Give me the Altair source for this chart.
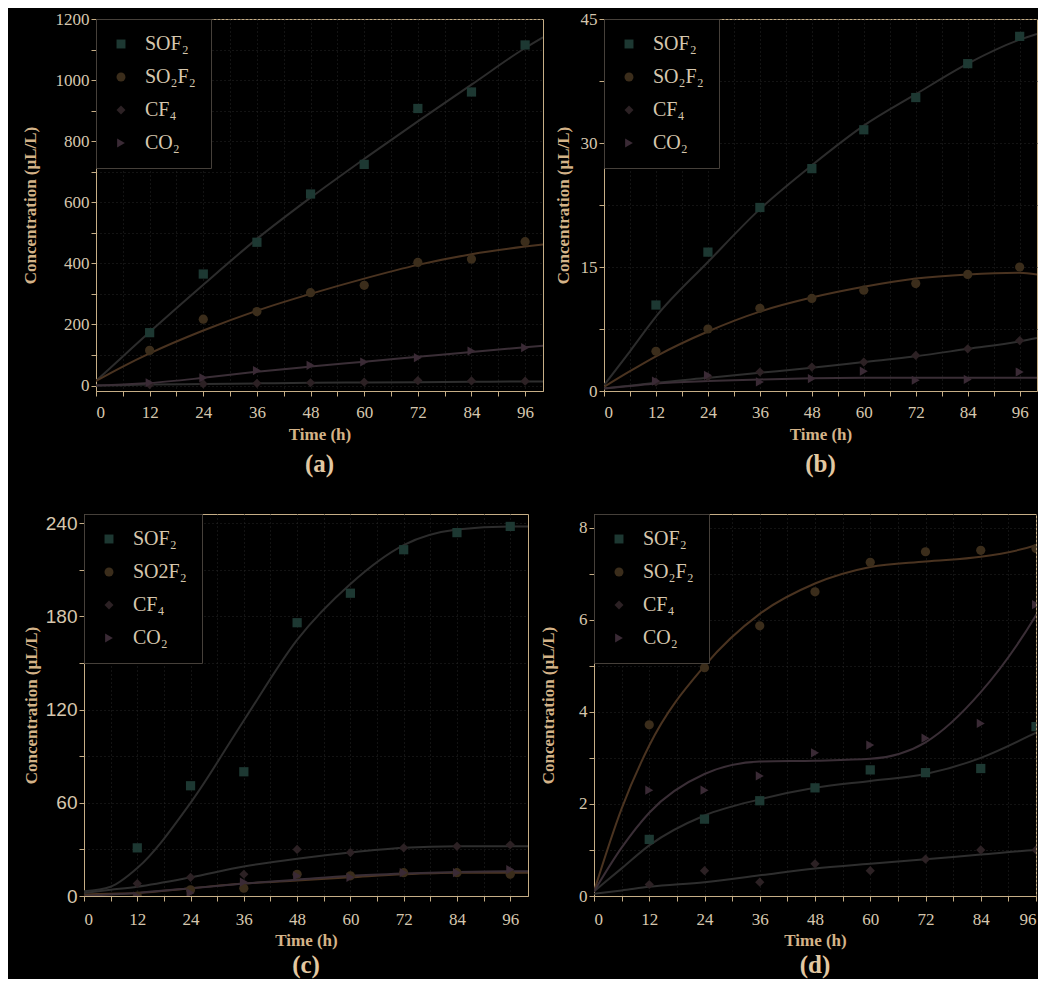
import altair as alt
import pandas as pd

# ---------------- data ----------------
SERIES_KEYS = ["SOF2", "SO2F2", "CF4", "CO2"]
LABELS_STD = ["SOF₂", "SO₂F₂", "CF₄", "CO₂"]
LABELS_C = ["SOF₂", "SO2F₂", "CF₄", "CO₂"]

HOURS = [12, 24, 36, 48, 60, 72, 84, 96]
FIT_HOURS = [0, 6, 12, 24, 36, 48, 60, 72, 84, 96, 100]

# panel (a) measured points
a_sof2 = [173, 365, 469, 627, 724, 907, 961, 1115]
a_so2f2 = [115, 217, 242, 304, 328, 403, 414, 471]
a_cf4 = [3, 5, 7, 9, 11, 16, 15, 14]
a_co2 = [9, 25, 49, 66, 77, 91, 113, 124]
# panel (a) fitted curves
a_sof2_fit = [15, 95, 175, 330, 480, 615, 742, 865, 985, 1105, 1140]
a_so2f2_fit = [15, 62, 105, 180, 245, 300, 350, 395, 430, 455, 462]
a_cf4_fit = [0, 1, 3, 5, 7, 9, 10, 11, 12, 13, 13]
a_co2_fit = [0, 3, 8, 25, 45, 62, 78, 94, 110, 125, 130]

# panel (b)
b_sof2 = [10.4, 16.8, 22.2, 26.9, 31.6, 35.5, 39.6, 42.9]
b_so2f2 = [4.8, 7.5, 10.0, 11.2, 12.2, 13.0, 14.1, 15.0]
b_cf4 = [1.1, 1.7, 2.3, 2.9, 3.5, 4.3, 5.1, 6.1]
b_co2 = [1.2, 1.9, 1.1, 1.5, 2.4, 1.3, 1.4, 2.3]
b_sof2_fit = [0.7, 4.8, 9.0, 15.6, 22.0, 27.3, 32.1, 35.9, 39.6, 42.5, 43.2]
b_so2f2_fit = [0.5, 2.4, 4.2, 7.2, 9.6, 11.3, 12.6, 13.6, 14.1, 14.3, 14.1]
b_cf4_fit = [0.3, 0.65, 1.0, 1.6, 2.2, 2.8, 3.5, 4.2, 5.1, 6.0, 6.4]
b_co2_fit = [0.3, 0.6, 0.9, 1.2, 1.4, 1.55, 1.6, 1.6, 1.6, 1.6, 1.6]

# panel (c)
c_sof2 = [31, 71, 80, 176, 195, 223, 234, 238]
c_so2f2 = [0, 4, 5, 14, 13, 15, 15, 14]
c_cf4 = [8, 12, 14, 30, 28, 31, 32, 33]
c_co2 = [0, 2, 9, 13, 12, 15, 15, 17]
c_sof2_fit = [3, 6, 18, 60, 113, 165, 201, 226, 236, 238, 238]
c_so2f2_fit = [1, 1.5, 2, 5, 8, 10, 12, 14, 15, 15, 15]
c_cf4_fit = [2, 4, 6, 12, 19, 24, 28, 31, 32, 32, 32]
c_co2_fit = [0, 1, 2, 5, 8, 10.5, 13, 14.5, 15.5, 16, 16]

# panel (d)
d_sof2 = [1.23, 1.67, 2.07, 2.35, 2.74, 2.68, 2.77, 3.68]
d_so2f2 = [3.72, 4.96, 5.87, 6.61, 7.25, 7.48, 7.51, 7.55]
d_cf4 = [0.25, 0.55, 0.3, 0.7, 0.55, 0.8, 1.0, 1.0]
d_co2 = [2.30, 2.30, 2.61, 3.11, 3.28, 3.43, 3.75, 6.33]
d_sof2_fit = [0.1, 0.6, 1.1, 1.75, 2.1, 2.35, 2.5, 2.65, 3.0, 3.55, 3.75]
d_so2f2_fit = [0.1, 1.9, 3.27, 5.0, 6.13, 6.79, 7.15, 7.27, 7.37, 7.62, 7.77]
d_cf4_fit = [0.05, 0.12, 0.2, 0.3, 0.45, 0.6, 0.7, 0.8, 0.9, 1.0, 1.02]
d_co2_fit = [0.1, 1.05, 1.81, 2.65, 2.92, 2.94, 2.98, 3.34, 4.43, 6.1, 6.8]

# ---------------- styling ----------------
MARKER_COLORS = ["#1d3832", "#3b2d1b", "#2c2124", "#3a2a35"]
LINE_COLORS = ["#2c2c2c", "#4a3320", "#2e2e2e", "#3a2e36"]
SHAPES = ["square", "circle", "diamond", "triangle-right"]
TAN = "#c6ae86"
LABEL_COL = "#d6c7ae"
TITLE_COL = "#d4b388"
LETTER_COL = "#e2c8a2"


def panel(labels, pts, fits, letter, xmax, ydomain, yvalues, ystep, width, height,
          ytitle_pad, ylabel_font, ylabel_size, xlabel_pad, xtitle_pad, title_offset,
          flush=False):
    prow, frow = [], []
    for i, key in enumerate(SERIES_KEYS):
        for h, v in zip(HOURS, pts[key]):
            prow.append({"series": labels[i], "hour": h, "value": v})
        for h, v in zip(FIT_HOURS, fits[key]):
            frow.append({"series": labels[i], "hour": h, "value": v})
    pdf = pd.DataFrame(prow)
    fdf = pd.DataFrame(frow)

    xaxis_kw = dict(
        values=list(range(0, 97, 6)),
        labelExpr="datum.value % 12 == 0 ? datum.label : ''",
        format="d",
        title="Time (h)",
        labelPadding=xlabel_pad,
        titlePadding=xtitle_pad,
    )
    if flush:
        xaxis_kw["labelFlush"] = True
    x = alt.X("hour:Q", scale=alt.Scale(domain=[0, xmax], nice=False, zero=False),
              axis=alt.Axis(**xaxis_kw))
    y = alt.Y("value:Q", scale=alt.Scale(domain=ydomain, nice=False, zero=False),
              axis=alt.Axis(values=yvalues, format="d",
                            labelExpr=f"datum.value % {ystep} == 0 ? datum.label : ''",
                            title="Concentration (μL/L)", titlePadding=ytitle_pad,
                            labelFont=ylabel_font, labelFontSize=ylabel_size))

    layers = []
    for i, lab in enumerate(labels):
        layers.append(
            alt.Chart(fdf).transform_filter(alt.datum.series == lab)
            .mark_line(interpolate="monotone", strokeWidth=2, clip=True,
                       color=LINE_COLORS[i])
            .encode(x=x, y=y)
        )
    legend = alt.Legend(
        title=None, orient="top-left", offset=0, padding=15,
        fillColor="black", strokeColor="#46403a",
        labelFont="Liberation Serif", labelFontSize=20, labelColor=LABEL_COL,
        rowPadding=13, labelOffset=14, symbolSize=80, symbolStrokeWidth=0,
    )
    points = alt.Chart(pdf).mark_point(filled=True, size=85, opacity=1, clip=True).encode(
        x=x, y=y,
        color=alt.Color("series:N", sort=labels,
                        scale=alt.Scale(domain=labels, range=MARKER_COLORS),
                        legend=legend),
        shape=alt.Shape("series:N", sort=labels,
                        scale=alt.Scale(domain=labels, range=SHAPES),
                        legend=legend),
    )
    layers.append(points)
    return alt.layer(*layers).properties(
        width=width, height=height,
        title=alt.TitleParams(letter, orient="bottom", anchor="middle", offset=title_offset,
                              fontSize=25, font="Liberation Serif", fontWeight="bold",
                              color=LETTER_COL),
    )


def d(*arrs):
    return dict(zip(SERIES_KEYS, arrs))


def spacer():
    return alt.Chart(pd.DataFrame({"v": [0]})).mark_point(
        size=0, opacity=0, clip=True
    ).encode(
        x=alt.X("v:Q", axis=None), y=alt.Y("v:Q", axis=None)
    ).properties(width=1, height=1,
                 view=alt.ViewBackground(stroke="transparent", strokeWidth=0))


pa = panel(LABELS_STD, d(a_sof2, a_so2f2, a_cf4, a_co2),
           d(a_sof2_fit, a_so2f2_fit, a_cf4_fit, a_co2_fit),
           "(a)", 100, [-18, 1200], list(range(0, 1201, 100)), 200, 447, 372,
           16, "Liberation Serif", 17, 8, 6, 10)
pb = panel(LABELS_STD, d(b_sof2, b_so2f2, b_cf4, b_co2),
           d(b_sof2_fit, b_so2f2_fit, b_cf4_fit, b_co2_fit),
           "(b)", 100, [0, 45], [0, 7.5, 15, 22.5, 30, 37.5, 45], 15, 433, 372,
           8, "Liberation Serif", 17, 8, 6, 10)
pc = panel(LABELS_C, d(c_sof2, c_so2f2, c_cf4, c_co2),
           d(c_sof2_fit, c_so2f2_fit, c_cf4_fit, c_co2_fit),
           "(c)", 100, [0, 246], list(range(0, 241, 30)), 60, 444, 382,
           5, "Liberation Sans", 19, 10, 5, 5)
pd_ = panel(LABELS_STD, d(d_sof2, d_so2f2, d_cf4, d_co2),
            d(d_sof2_fit, d_so2f2_fit, d_cf4_fit, d_co2_fit),
            "(d)", 96, [0, 8.3], list(range(0, 9)), 2, 442, 382,
            21, "Liberation Serif", 17, 10, 5, 5, flush=True)

res = dict(color="independent", shape="independent",
           x="independent", y="independent")
top = alt.hconcat(spacer(), pa, pb, spacing=9).resolve_scale(**res).resolve_legend(
    color="independent", shape="independent")
bottom = alt.hconcat(spacer(), pc, pd_, spacing=10).resolve_scale(**res).resolve_legend(
    color="independent", shape="independent")

chart = alt.vconcat(top, bottom, spacing=35).resolve_scale(**res).resolve_legend(
    color="independent", shape="independent"
).properties(
    background="black",
    padding={"left": 2, "top": 1, "right": 0, "bottom": 0},
).configure_view(
    stroke=TAN, strokeWidth=1
).configure_axis(
    domainColor=TAN, tickColor=TAN, tickSize=5,
    labelColor=LABEL_COL, titleColor=TITLE_COL,
    labelFont="Liberation Serif", titleFont="Liberation Serif",
    labelFontSize=17, titleFontSize=17, titleFontWeight="bold",
    grid=True, gridColor="#262626", gridDash=[1, 3], gridWidth=1,
)

chart.save("out.html", embed_options={"renderer": "svg", "actions": False})
